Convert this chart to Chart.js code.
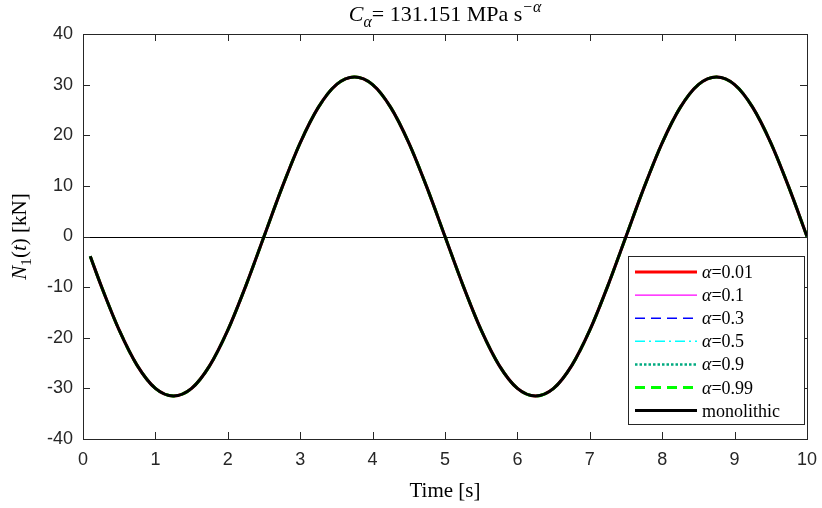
<!DOCTYPE html>
<html>
<head>
<meta charset="utf-8">
<script src="https://cdn.jsdelivr.net/npm/chart.js@4"></script>
<style>
  html, body { margin: 0; padding: 0; background: #fff; }
  #wrap { width: 822px; height: 508px; }
</style>
</head>
<body>
<div id="wrap"><canvas id="axialForceChart" width="822" height="508"></canvas></div>
<script>
// time samples [s] and axial force N1(t) [kN]
const timeS = [0.1, 0.25, 0.5, 0.75, 1.0, 1.25, 1.5, 1.75, 2.0, 2.25, 2.5,
               2.75, 3.0, 3.25, 3.5, 3.75, 4.0, 4.25, 4.5, 4.75, 5.0,
               5.25, 5.5, 5.75, 6.0, 6.25, 6.5, 6.75, 7.0, 7.25, 7.5,
               7.75, 8.0, 8.25, 8.5, 8.75, 9.0, 9.25, 9.5, 9.75, 10.0];
const n1Kn = [-3.9, -9.7, -18.5, -25.5, -30.0, -31.5, -30.0, -25.5, -18.5, -9.7, 0,
              9.7, 18.5, 25.5, 30.0, 31.5, 30.0, 25.5, 18.5, 9.7, 0,
              -9.7, -18.5, -25.5, -30.0, -31.5, -30.0, -25.5, -18.5, -9.7, 0,
              9.7, 18.5, 25.5, 30.0, 31.5, 30.0, 25.5, 18.5, 9.7, 0];
// all fractional models coincide with the monolithic solution
const seriesLabels = ['\u03b1=0.01', '\u03b1=0.1', '\u03b1=0.3', '\u03b1=0.5', '\u03b1=0.9', '\u03b1=0.99', 'monolithic'];
const xTicks = [0, 1, 2, 3, 4, 5, 6, 7, 8, 9, 10];
const yTicks = [-40, -30, -20, -10, 0, 10, 20, 30, 40];

const styles = [
    { color: '#ff0000', width: 3, dash: [] },
    { color: '#ff00ff', width: 1.2, dash: [] },
    { color: '#0000ff', width: 1.5, dash: [10, 6] },
    { color: '#00ffff', width: 1.5, dash: [10, 4, 2, 4] },
    { color: '#00aa80', width: 2.5, dash: [2.5, 2] },
    { color: '#00ff00', width: 3, dash: [10, 6] },
    { color: '#000000', width: 3, dash: [] }
];

const AXIS_COLOR = '#262626';
const SERIF = '"Liberation Serif", "DejaVu Serif", serif';

function points(vals) {
    return timeS.map((t, i) => ({ x: t, y: vals[i] }));
}

const datasets = seriesLabels.map((label, i) => ({
    label: label,
    data: points(n1Kn),
    borderColor: styles[i].color,
    borderWidth: styles[i].width,
    borderDash: styles[i].dash,
    pointRadius: 0,
    cubicInterpolationMode: 'monotone',
    fill: false,
    order: seriesLabels.length - 1 - i
}));

// draw text with sub/superscripts: parts = [{t, italic, sub, sup}]
function drawRich(ctx, parts, size, x, y, align) {
    const font = (p) => (p.italic ? 'italic ' : '') + ((p.sub || p.sup) ? size * 0.72 : size) + 'px ' + SERIF;
    let total = 0;
    parts.forEach(p => { ctx.font = font(p); total += ctx.measureText(p.t).width; });
    let cx = align === 'center' ? x - total / 2 : x;
    ctx.textBaseline = 'alphabetic';
    ctx.textAlign = 'left';
    parts.forEach(p => {
        ctx.font = font(p);
        let dy = 0;
        if (p.sub) dy = size * 0.25;
        if (p.sup) dy = -size * 0.4;
        ctx.fillText(p.t, cx, y + dy);
        cx += ctx.measureText(p.t).width;
    });
}

const matlabFrame = {
    id: 'matlabFrame',
    beforeDatasetsDraw(chart) {
        const { ctx, chartArea: a, scales } = chart;
        // zero line
        const y0 = scales.y.getPixelForValue(0);
        ctx.save();
        ctx.strokeStyle = '#000';
        ctx.lineWidth = 1;
        ctx.beginPath();
        ctx.moveTo(a.left, Math.round(y0) + 0.5);
        ctx.lineTo(a.right, Math.round(y0) + 0.5);
        ctx.stroke();
        ctx.restore();
    },
    afterDraw(chart) {
        const { ctx, chartArea: a, scales } = chart;
        ctx.save();
        ctx.strokeStyle = AXIS_COLOR;
        ctx.lineWidth = 1;
        ctx.strokeRect(Math.round(a.left) + 0.5, Math.round(a.top) + 0.5,
                       Math.round(a.right - a.left), Math.round(a.bottom - a.top));
        const tl = 7;
        ctx.beginPath();
        xTicks.forEach(v => {
            const px = Math.round(scales.x.getPixelForValue(v)) + 0.5;
            ctx.moveTo(px, a.bottom); ctx.lineTo(px, a.bottom - tl);
            ctx.moveTo(px, a.top); ctx.lineTo(px, a.top + tl);
        });
        yTicks.forEach(v => {
            const py = Math.round(scales.y.getPixelForValue(v)) + 0.5;
            ctx.moveTo(a.left, py); ctx.lineTo(a.left + tl, py);
            ctx.moveTo(a.right, py); ctx.lineTo(a.right - tl, py);
        });
        ctx.stroke();

        // title and axis labels
        ctx.fillStyle = '#000';
        drawRich(ctx, [
            { t: 'C', italic: true },
            { t: '\u03b1', italic: true, sub: true },
            { t: '= 131.151 MPa s' },
            { t: '\u2212\u03b1', italic: true, sup: true }
        ], 22, (a.left + a.right) / 2, 21, 'center');

        drawRich(ctx, [{ t: 'Time [s]' }], 21, (a.left + a.right) / 2, 497, 'center');

        ctx.save();
        ctx.translate(26, (a.top + a.bottom) / 2);
        ctx.rotate(-Math.PI / 2);
        drawRich(ctx, [
            { t: 'N', italic: true },
            { t: '1', sub: true },
            { t: '(' }, { t: 't', italic: true }, { t: ') [kN]' }
        ], 21, 0, 0, 'center');
        ctx.restore();

        // legend box inside plot area
        const lx = 628, ly = 256, lw = 176, lh = 168;
        ctx.fillStyle = '#fff';
        ctx.fillRect(lx, ly, lw, lh);
        ctx.strokeStyle = AXIS_COLOR;
        ctx.lineWidth = 1;
        ctx.strokeRect(lx + 0.5, ly + 0.5, lw, lh);
        seriesLabels.forEach((label, i) => {
            const ry = 272 + i * 23.1;
            const s = styles[i];
            ctx.save();
            ctx.strokeStyle = s.color;
            ctx.lineWidth = s.width;
            ctx.setLineDash(s.dash);
            ctx.beginPath();
            ctx.moveTo(635, ry);
            ctx.lineTo(697, ry);
            ctx.stroke();
            ctx.restore();
            ctx.fillStyle = '#000';
            if (label === 'monolithic') {
                drawRich(ctx, [{ t: label }], 18, 702, ry + 6, 'left');
            } else {
                drawRich(ctx, [{ t: '\u03b1', italic: true }, { t: label.slice(1) }], 18, 702, ry + 6, 'left');
            }
        });
        ctx.restore();
    }
};

new Chart(document.getElementById('axialForceChart'), {
    type: 'line',
    data: { datasets: datasets },
    options: {
        responsive: false,
        animation: false,
        events: [],
        layout: { padding: { left: 0, right: 15, top: 34, bottom: 0 } },
        plugins: { legend: { display: false }, tooltip: { enabled: false }, title: { display: false } },
        scales: {
            x: {
                type: 'linear', min: 0, max: 10,
                afterBuildTicks: (s) => { s.ticks = xTicks.map(v => ({ value: v })); },
                afterFit: (s) => { s.height = 69; s.paddingLeft = 0; s.paddingRight = 0; },
                grid: { display: false, drawTicks: false },
                border: { display: false },
                ticks: { padding: 10, color: AXIS_COLOR, maxRotation: 0,
                         font: { family: '"Liberation Sans", Arial, sans-serif', size: 18 } }
            },
            y: {
                type: 'linear', min: -40, max: 40,
                afterBuildTicks: (s) => { s.ticks = yTicks.map(v => ({ value: v })); },
                afterFit: (s) => { s.width = 83; s.paddingTop = 0; s.paddingBottom = 0; },
                grid: { display: false, drawTicks: false },
                border: { display: false },
                ticks: { padding: 10, color: AXIS_COLOR,
                         font: { family: '"Liberation Sans", Arial, sans-serif', size: 18 } }
            }
        }
    },
    plugins: [matlabFrame]
});
</script>
</body>
</html>
